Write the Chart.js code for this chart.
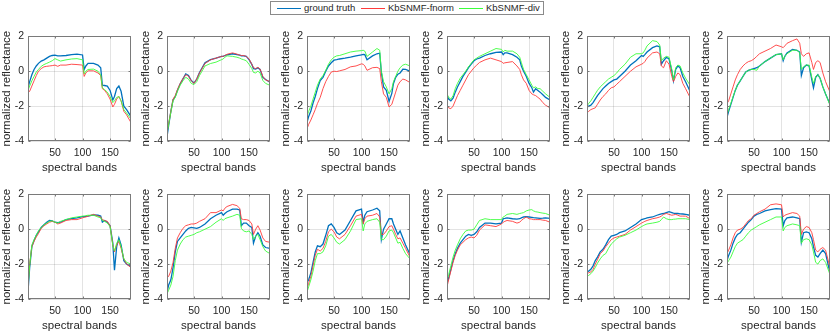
<!DOCTYPE html>
<html>
<head>
<meta charset="utf-8">
<script src="https://cdn.jsdelivr.net/npm/chart.js@4.4.1/dist/chart.umd.min.js"></script>
<style>
  body { margin: 0; width: 830px; height: 333px; overflow: hidden; background: #fff; position: relative;
         font-family: "Liberation Sans", Arial, sans-serif; color: #262626; }
  canvas { position: absolute; }
  #legend { position: absolute; left: 270px; top: 1px; width: 272px; height: 12px; border: 1px solid #8a8a8a; background: #fff; font-size: 9.5px; white-space: nowrap; }
  #legend .ln { position: absolute; top: 6px; width: 24px; height: 1px; }
  #legend .tx { position: absolute; top: 0px; line-height: 12px; }
</style>
</head>
<body>
<div id="legend">
  <div class="ln" style="left:6px;background:#0072bd"></div><div class="tx" style="left:33px">ground truth</div>
  <div class="ln" style="left:90px;background:#ff3b3b"></div><div class="tx" style="left:117px">KbSNMF-fnorm</div>
  <div class="ln" style="left:188px;background:#3bff3b"></div><div class="tx" style="left:215px">KbSNMF-div</div>
</div>
<script>
// band positions where the spectra are sampled
const bands = [1,4,8,12,16,20,25,30,35,40,45,50,55,60,70,80,90,100,103,106,110,120,128,133,136,140,145,150,155,158,162,166,170,175,180,188];

const gt1 = [-0.96,-0.6,-0.2,0.1,0.3,0.45,0.58,0.65,0.75,0.85,0.9,0.92,0.88,0.88,0.9,0.95,0.98,0.93,0.1,0.3,0.45,0.45,0.35,0.2,-0.8,-0.82,-0.85,-1.1,-1.65,-1.45,-1.0,-0.85,-1.15,-2.0,-2.2,-2.6];
const fn1 = [-1.25,-1.15,-0.85,-0.55,-0.25,0.0,0.15,0.25,0.28,0.3,0.32,0.35,0.28,0.35,0.35,0.4,0.38,0.35,-0.3,-0.1,0.02,0.02,-0.1,-0.25,-1.0,-1.1,-1.3,-1.6,-2.05,-1.9,-1.6,-1.45,-1.7,-2.3,-2.5,-2.95];
const dv1 = [-1.1,-0.85,-0.55,-0.3,-0.05,0.1,0.28,0.38,0.45,0.52,0.6,0.72,0.65,0.58,0.65,0.7,0.72,0.65,-0.15,0.0,0.1,0.12,0.0,-0.2,-0.95,-1.05,-1.2,-1.45,-1.8,-1.7,-1.5,-1.45,-1.7,-2.2,-2.4,-2.75];

const gt2 = [-3.76,-3.1,-2.3,-1.64,-1.45,-1.09,-0.72,-0.44,-0.15,-0.25,-0.53,-0.68,-0.45,-0.07,0.48,0.66,0.75,0.85,0.85,0.9,0.94,1.0,0.95,0.92,0.88,0.88,0.85,0.66,0.39,0.15,0.12,0.2,0.1,-0.35,-0.48,-0.63];
const fn2 = [-3.5,-3.0,-2.3,-1.6,-1.4,-1.05,-0.7,-0.42,-0.2,-0.28,-0.55,-0.7,-0.45,-0.1,0.45,0.65,0.75,0.85,0.85,0.9,0.97,1.05,0.98,0.92,0.9,0.9,0.85,0.7,0.4,0.2,0.15,0.22,0.12,-0.3,-0.5,-0.6];
const dv2 = [-3.55,-3.05,-2.35,-1.7,-1.5,-1.15,-0.8,-0.55,-0.35,-0.45,-0.7,-0.77,-0.6,-0.25,0.3,0.44,0.52,0.66,0.7,0.8,0.88,0.85,0.8,0.75,0.7,0.66,0.6,0.39,0.15,-0.07,-0.1,0.0,-0.1,-0.53,-0.7,-0.81];

const gt3 = [-2.93,-2.6,-2.28,-1.82,-1.45,-1.0,-0.53,-0.35,0.0,0.3,0.48,0.63,0.66,0.7,0.75,0.81,0.88,0.94,0.96,0.95,0.66,0.88,1.0,1.03,-0.07,-0.9,-1.09,-1.73,-1.27,-0.7,-0.35,-0.17,-0.1,0.11,0.1,0.0];
const fn3 = [-3.3,-3.05,-2.8,-2.5,-2.2,-1.85,-1.5,-1.0,-0.6,-0.3,-0.05,0.0,-0.02,0.02,0.1,0.25,0.3,0.42,0.4,0.3,0.05,0.2,0.22,0.15,-0.6,-1.3,-1.5,-2.05,-1.9,-1.6,-1.2,-0.8,-0.6,-0.45,-0.5,-0.65];
const dv3 = [-2.6,-2.3,-2.0,-1.6,-1.2,-0.8,-0.45,-0.25,0.05,0.4,0.65,0.8,0.88,0.9,1.0,1.1,1.15,1.18,1.2,1.15,0.85,1.1,1.3,1.2,0.0,-0.6,-0.9,-1.3,-1.0,-0.6,-0.3,0.0,0.2,0.35,0.4,0.3];

const gt4 = [-1.4,-1.6,-1.7,-1.55,-1.2,-0.9,-0.6,-0.3,-0.05,0.2,0.4,0.6,0.7,0.75,0.9,1.0,1.08,1.1,0.95,1.05,1.05,0.95,0.8,0.65,0.3,0.0,-0.3,-0.7,-0.95,-1.2,-1.0,-1.1,-1.2,-1.35,-1.5,-1.65];
const fn4 = [-2.0,-2.1,-2.15,-2.0,-1.7,-1.4,-1.1,-0.8,-0.5,-0.2,0.0,0.2,0.35,0.5,0.65,0.75,0.65,0.55,0.45,0.48,0.5,0.55,0.3,0.1,-0.2,-0.5,-0.7,-1.1,-1.3,-1.35,-1.4,-1.5,-1.6,-1.8,-1.95,-2.1];
const dv4 = [-1.3,-1.5,-1.6,-1.4,-1.0,-0.7,-0.4,-0.2,0.0,0.25,0.45,0.65,0.75,0.85,1.0,1.15,1.3,1.25,1.1,1.2,1.15,1.15,1.0,0.8,0.5,0.1,-0.2,-0.5,-0.8,-0.95,-0.9,-1.0,-1.0,-1.15,-1.3,-1.5];

const gt5 = [-2.06,-2.0,-1.95,-1.8,-1.6,-1.4,-1.2,-1.0,-0.85,-0.7,-0.6,-0.5,-0.45,-0.3,0.0,0.35,0.6,0.9,0.85,0.95,1.1,1.35,1.45,1.4,0.4,0.6,0.8,0.7,0.0,-0.55,0.1,0.3,0.2,-0.3,-0.6,-1.15];
const fn5 = [-2.4,-2.3,-2.2,-2.15,-2.1,-1.9,-1.65,-1.45,-1.3,-1.1,-0.95,-0.9,-0.75,-0.6,-0.3,0.0,0.25,0.4,0.45,0.55,0.75,1.05,1.1,1.0,0.3,0.2,0.6,0.4,-0.3,-0.6,-0.3,-0.1,-0.2,-0.7,-1.0,-1.5];
const dv5 = [-2.0,-1.85,-1.7,-1.5,-1.3,-1.1,-0.9,-0.75,-0.6,-0.45,-0.35,-0.25,-0.1,0.1,0.4,0.8,1.0,1.0,1.05,1.2,1.45,1.75,1.7,1.5,0.6,0.75,0.85,0.8,0.1,-0.5,0.2,0.35,0.3,-0.1,-0.4,-0.8];

const gt6 = [-2.65,-2.3,-1.9,-1.5,-1.1,-0.8,-0.55,-0.3,-0.05,0.05,0.1,0.15,0.2,0.3,0.55,0.75,0.95,1.0,0.6,0.85,1.05,1.25,1.2,1.1,-0.25,0.2,0.35,0.3,-0.5,-0.95,-0.35,-0.2,-0.4,-0.9,-1.3,-1.9];
const fn6 = [-1.85,-1.7,-1.3,-0.9,-0.5,-0.2,0.1,0.3,0.45,0.55,0.6,0.7,0.85,1.0,1.15,1.3,1.5,1.4,1.35,1.45,1.6,1.75,1.85,1.6,1.0,0.85,1.0,1.05,0.5,0.1,0.5,0.6,0.5,-0.1,-0.6,-1.2];
const dv6 = [-2.5,-2.2,-1.85,-1.45,-1.1,-0.8,-0.55,-0.3,-0.05,0.05,0.1,0.1,0.05,0.3,0.55,0.75,0.95,1.0,0.65,0.85,1.0,1.2,1.2,1.05,0.1,0.25,0.35,0.35,-0.35,-0.7,-0.3,-0.2,-0.4,-0.9,-1.3,-1.95];

const gt7 = [-3.6,-2.2,-1.0,-0.65,-0.35,-0.15,0.1,0.25,0.4,0.5,0.48,0.4,0.38,0.4,0.55,0.6,0.65,0.72,0.72,0.73,0.75,0.82,0.8,0.75,0.4,0.5,0.4,0.2,-0.8,-2.35,-1.0,-0.5,-0.9,-1.8,-2.0,-2.15];
const fn7 = [-3.2,-2.0,-1.0,-0.7,-0.45,-0.25,0.05,0.2,0.3,0.4,0.45,0.4,0.3,0.35,0.5,0.55,0.55,0.65,0.68,0.7,0.75,0.85,0.75,0.7,0.55,0.5,0.45,0.2,-0.9,-1.3,-0.9,-0.7,-1.1,-1.7,-2.0,-2.2];
const dv7 = [-3.4,-2.1,-0.9,-0.6,-0.35,-0.1,0.1,0.25,0.35,0.45,0.48,0.4,0.35,0.45,0.55,0.65,0.7,0.75,0.76,0.78,0.8,0.8,0.7,0.65,0.5,0.45,0.35,0.15,-0.95,-1.25,-0.8,-0.6,-1.0,-1.7,-1.9,-2.0];

const gt8 = [-3.6,-3.2,-2.9,-2.2,-1.3,-0.7,-0.5,-0.3,-0.1,0.05,0.1,0.08,0.05,0.1,0.3,0.6,0.8,0.95,0.8,0.9,1.0,1.15,1.15,1.1,0.2,0.35,0.35,0.2,0.1,-0.8,-0.4,-0.2,-0.4,-0.9,-1.05,-1.1];
const fn8 = [-2.8,-2.7,-2.4,-1.9,-1.1,-0.5,-0.2,0.05,0.2,0.25,0.3,0.3,0.35,0.45,0.6,0.95,0.95,1.1,1.05,1.2,1.3,1.42,1.35,1.2,0.6,0.55,0.55,0.5,0.3,-0.3,0.0,0.2,-0.05,-0.5,-0.7,-0.75];
const dv8 = [-3.7,-3.5,-3.2,-2.7,-1.8,-1.2,-0.85,-0.6,-0.45,-0.4,-0.35,-0.3,-0.2,-0.15,0.0,0.15,0.4,0.6,0.5,0.6,0.65,0.75,0.85,0.8,0.05,-0.1,-0.15,-0.1,-0.3,-0.6,-0.4,-0.3,-0.6,-1.0,-1.25,-1.4];

const gt9 = [-3.05,-2.9,-2.5,-1.9,-1.3,-0.95,-1.0,-0.85,-0.35,0.2,0.3,0.1,-0.2,-0.3,-0.05,0.5,1.05,1.15,0.4,0.8,1.0,1.1,1.2,1.05,-0.6,0.0,0.3,0.6,0.6,0.3,0.0,-0.3,-0.1,-0.5,-0.9,-1.45];
const fn9 = [-3.4,-3.1,-2.7,-2.1,-1.5,-1.15,-1.25,-1.1,-0.7,-0.15,0.0,-0.15,-0.45,-0.55,-0.3,0.2,0.75,0.85,0.3,0.6,0.75,0.8,0.9,0.7,-0.3,-0.3,-0.1,0.15,0.2,0.0,-0.3,-0.55,-0.5,-0.8,-1.1,-1.6];
const dv9 = [-3.6,-3.3,-2.9,-2.4,-1.8,-1.4,-1.4,-1.3,-0.95,-0.4,-0.3,-0.5,-0.75,-0.85,-0.6,-0.1,0.55,0.6,-0.1,0.3,0.45,0.55,0.6,0.4,-0.6,-0.6,-0.4,-0.1,-0.05,-0.2,-0.5,-0.8,-0.75,-1.1,-1.4,-1.7];

const gt10 = [-3.1,-2.8,-2.3,-1.8,-1.4,-1.1,-0.8,-0.6,-0.4,-0.3,-0.35,-0.3,-0.15,0.1,0.35,0.35,0.3,0.35,0.6,0.62,0.65,0.6,0.58,0.6,0.65,0.7,0.72,0.7,0.68,0.66,0.65,0.64,0.62,0.63,0.65,0.62];
const fn10 = [-3.3,-2.9,-2.4,-1.9,-1.5,-1.2,-0.9,-0.75,-0.6,-0.5,-0.45,-0.5,-0.35,-0.05,0.25,0.2,0.15,0.3,0.4,0.45,0.5,0.45,0.35,0.4,0.5,0.6,0.7,0.6,0.58,0.55,0.55,0.55,0.55,0.52,0.5,0.4];
const dv10 = [-2.9,-2.6,-2.1,-1.6,-1.2,-0.9,-0.55,-0.3,-0.1,-0.05,-0.05,0.0,0.25,0.5,0.6,0.55,0.55,0.55,0.7,0.75,0.85,0.9,0.85,0.9,0.92,0.95,1.05,1.1,1.12,1.05,1.0,0.98,0.95,0.92,0.9,0.8];

const gt11 = [-2.45,-2.4,-2.3,-2.1,-1.8,-1.6,-1.3,-1.15,-0.9,-0.6,-0.4,-0.35,-0.3,-0.2,-0.1,0.1,0.3,0.55,0.58,0.6,0.65,0.7,0.8,0.85,0.88,0.9,0.95,1.0,0.95,0.92,0.9,0.9,0.88,0.87,0.85,0.8];
const fn11 = [-2.55,-2.5,-2.45,-2.3,-2.0,-1.75,-1.4,-1.25,-1.0,-0.8,-0.6,-0.5,-0.45,-0.4,-0.3,-0.05,0.15,0.35,0.4,0.45,0.5,0.6,0.65,0.7,0.75,0.85,0.9,0.85,0.8,0.82,0.85,0.8,0.75,0.75,0.75,0.6];
const dv11 = [-2.7,-2.65,-2.55,-2.4,-2.2,-1.95,-1.7,-1.5,-1.4,-1.1,-0.85,-0.7,-0.55,-0.45,-0.35,-0.2,-0.05,0.15,0.2,0.25,0.3,0.35,0.4,0.45,0.55,0.7,0.6,0.55,0.55,0.57,0.58,0.6,0.6,0.6,0.6,0.55];

const gt12 = [-1.8,-1.5,-1.2,-0.8,-0.5,-0.3,-0.2,0.0,0.2,0.4,0.55,0.75,0.85,0.9,1.05,1.12,1.18,1.15,0.2,0.5,0.65,0.7,0.65,0.6,-0.75,-0.2,-0.15,-0.2,-0.55,-1.0,-1.5,-1.6,-1.4,-1.2,-1.4,-2.5];
const fn12 = [-1.4,-1.2,-0.9,-0.5,-0.2,-0.05,0.0,0.1,0.3,0.5,0.6,0.8,0.9,1.0,1.15,1.4,1.45,1.4,0.7,0.8,0.85,0.95,0.9,0.75,-0.3,0.0,0.15,0.1,-0.2,-0.6,-1.2,-1.3,-1.15,-1.05,-1.2,-2.2];
const dv12 = [-1.95,-1.8,-1.6,-1.3,-1.0,-0.8,-0.7,-0.6,-0.4,-0.2,-0.05,0.05,0.15,0.25,0.4,0.55,0.7,0.7,-0.1,0.1,0.2,0.3,0.25,0.2,-0.8,-0.6,-0.55,-0.6,-0.9,-1.3,-1.9,-2.0,-1.8,-1.7,-1.9,-2.6];

const xTicks = [50, 100, 150];
const yTicks = [-4, -2, 0, 2];

const panels = [
  [gt1, fn1, dv1], [gt2, fn2, dv2], [gt3, fn3, dv3], [gt4, fn4, dv4], [gt5, fn5, dv5], [gt6, fn6, dv6],
  [gt7, fn7, dv7], [gt8, fn8, dv8], [gt9, fn9, dv9], [gt10, fn10, dv10], [gt11, fn11, dv11], [gt12, fn12, dv12]
];

const ink = '#262626';
const font = 'Liberation Sans, Arial, sans-serif';

// matlab style box with inward ticks
const boxPlugin = {
  id: 'box',
  afterDraw(chart) {
    const { ctx, chartArea: a, scales } = chart;
    const l = Math.round(a.left) + 0.5, t = Math.round(a.top) + 0.5;
    const r = Math.round(a.right) - 0.5, b = Math.round(a.bottom) - 0.5;
    ctx.save();
    ctx.strokeStyle = '#7a7a7a';
    ctx.lineWidth = 1;
    ctx.strokeRect(l, t, r - l, b - t);
    ctx.beginPath();
    xTicks.forEach(v => {
      const px = Math.round(scales.x.getPixelForValue(v)) + 0.5;
      ctx.moveTo(px, b); ctx.lineTo(px, b - 2);
      ctx.moveTo(px, t); ctx.lineTo(px, t + 2);
    });
    yTicks.forEach(v => {
      const py = Math.round(scales.y.getPixelForValue(v)) + 0.5;
      ctx.moveTo(l, py); ctx.lineTo(l + 2, py);
      ctx.moveTo(r, py); ctx.lineTo(r - 2, py);
    });
    ctx.stroke();
    ctx.restore();
  }
};

const lefts = [0, 139, 279, 419, 559, 699];
const tops = [26, 184];

function series(vals) {
  return bands.map((b, i) => ({ x: b, y: vals[i] }));
}

panels.forEach((p, i) => {
  const cv = document.createElement('canvas');
  cv.width = 132;
  cv.height = 150;
  cv.style.left = lefts[i % 6] + 'px';
  cv.style.top = tops[Math.floor(i / 6)] + 'px';
  document.body.appendChild(cv);

  new Chart(cv.getContext('2d'), {
    type: 'line',
    data: {
      datasets: [
        { label: 'ground truth', data: series(p[0]), borderColor: '#0072bd', borderWidth: 1.3, order: 2 },
        { label: 'KbSNMF-fnorm', data: series(p[1]), borderColor: '#ff3b3b', borderWidth: 0.9, order: 1 },
        { label: 'KbSNMF-div', data: series(p[2]), borderColor: '#3bff3b', borderWidth: 0.9, order: 0 }
      ]
    },
    options: {
      responsive: false,
      animation: false,
      devicePixelRatio: 1,
      elements: { point: { radius: 0 }, line: { tension: 0 } },
      layout: { padding: { top: 6, right: 1, left: 0, bottom: 0 } },
      plugins: { legend: { display: false }, tooltip: { enabled: false } },
      scales: {
        x: {
          type: 'linear', min: 1, max: 188,
          afterBuildTicks: s => { s.ticks = xTicks.map(v => ({ value: v })); },
          afterFit: s => { s.height = 35; },
          grid: { color: 'rgba(38,38,38,0.13)', drawTicks: false },
          border: { display: false },
          ticks: { padding: 6, color: ink, font: { family: font, size: 10.5 }, maxRotation: 0 },
          title: { display: true, text: 'spectral bands', color: ink, padding: { top: 0, bottom: 1 }, font: { family: font, size: 11.5 } }
        },
        y: {
          min: -4, max: 2,
          afterBuildTicks: s => { s.ticks = yTicks.map(v => ({ value: v })); },
          afterFit: s => { s.width = 28; },
          grid: { color: 'rgba(38,38,38,0.13)', drawTicks: false },
          border: { display: false },
          ticks: { padding: 4, color: ink, font: { family: font, size: 10.5 } },
          title: { display: true, text: 'normalized reflectance', color: ink, padding: { top: 0, bottom: 0 }, font: { family: font, size: 11.5 } }
        }
      }
    },
    plugins: [boxPlugin]
  });
});
</script>
</body>
</html>
